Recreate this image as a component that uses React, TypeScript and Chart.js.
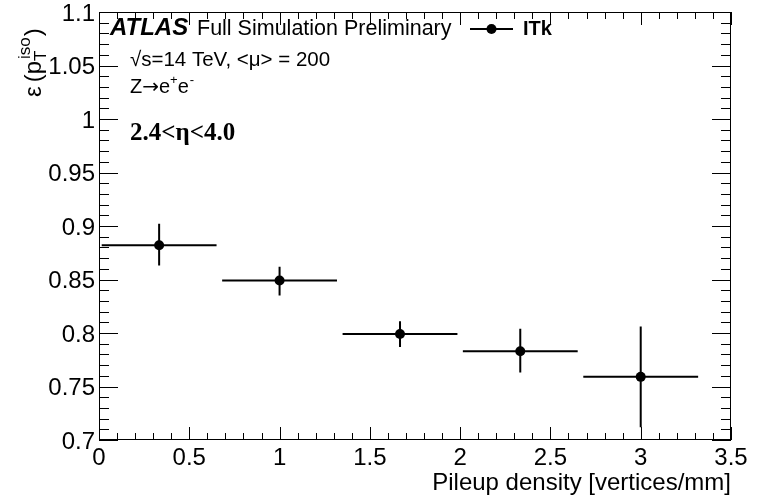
import React, { useEffect, useRef } from "react";
import { Chart, registerables } from "chart.js";

Chart.register(...registerables);

// ---- data ----
const pileupDensity = [0.333, 1.0, 1.667, 2.333, 3.0];
const binHalfWidth = [0.318, 0.318, 0.318, 0.318, 0.318];
const efficiency = [0.882, 0.849, 0.799, 0.783, 0.759];
const effErrUp = [0.02, 0.013, 0.012, 0.021, 0.047];
const effErrDown = [0.019, 0.014, 0.012, 0.02, 0.047];

const xTickValues = [0, 0.5, 1, 1.5, 2, 2.5, 3, 3.5];
const xTickLabels = ["0", "0.5", "1", "1.5", "2", "2.5", "3", "3.5"];
const yTickValues = [0.7, 0.75, 0.8, 0.85, 0.9, 0.95, 1.0, 1.05, 1.1];
const yTickLabels = ["0.7", "0.75", "0.8", "0.85", "0.9", "0.95", "1", "1.05", "1.1"];

const xTitle = "Pileup density [vertices/mm]";
const seriesName = "ITk";

const SANS = '"Liberation Sans", Arial, Helvetica, sans-serif';
const SERIF = '"Liberation Serif", "Times New Roman", serif';

const rootStylePlugin = {
  id: "rootStyle",
  beforeDatasetsDraw(chart: any) {
    const ctx = chart.ctx;
    const xs = chart.scales.x;
    const ys = chart.scales.y;
    ctx.save();
    ctx.strokeStyle = "#000";
    ctx.lineWidth = 2;
    for (let i = 0; i < pileupDensity.length; i++) {
      const px = xs.getPixelForValue(pileupDensity[i]);
      const py = ys.getPixelForValue(efficiency[i]);
      const xl = xs.getPixelForValue(pileupDensity[i] - binHalfWidth[i]);
      const xr = xs.getPixelForValue(pileupDensity[i] + binHalfWidth[i]);
      const yt = ys.getPixelForValue(efficiency[i] + effErrUp[i]);
      const yb = ys.getPixelForValue(efficiency[i] - effErrDown[i]);
      ctx.beginPath();
      ctx.moveTo(xl, py);
      ctx.lineTo(xr, py);
      ctx.moveTo(px, yt);
      ctx.lineTo(px, yb);
      ctx.stroke();
    }
    ctx.restore();
  },
  afterDraw(chart: any) {
    const ctx = chart.ctx;
    const xs = chart.scales.x;
    const ys = chart.scales.y;
    const { left, right, top, bottom } = chart.chartArea;
    ctx.save();
    // frame
    ctx.strokeStyle = "#000";
    ctx.lineWidth = 1;
    ctx.strokeRect(left + 0.5, top + 0.5, right - left - 1, bottom - top - 1);

    // y ticks (minor 0.01, major 0.05)
    ctx.beginPath();
    for (let i = 0; i <= 40; i++) {
      const v = 0.7 + i * 0.01;
      const py = Math.round(ys.getPixelForValue(v)) + 0.5;
      const len = i % 5 === 0 ? 19 : 10;
      ctx.moveTo(left, py);
      ctx.lineTo(left + len, py);
      ctx.moveTo(right, py);
      ctx.lineTo(right - len, py);
    }
    // x ticks (minor 0.1, major 0.5)
    for (let i = 0; i <= 35; i++) {
      const v = i * 0.1;
      const px = Math.round(xs.getPixelForValue(v)) + 0.5;
      const len = i % 5 === 0 ? 13 : 7;
      ctx.moveTo(px, bottom);
      ctx.lineTo(px, bottom - len);
      ctx.moveTo(px, top);
      ctx.lineTo(px, top + len);
    }
    ctx.stroke();

    // tick labels
    ctx.fillStyle = "#000";
    ctx.font = `24px ${SANS}`;
    ctx.textAlign = "right";
    ctx.textBaseline = "alphabetic";
    yTickValues.forEach((v, i) => {
      const py = ys.getPixelForValue(v);
      ctx.fillText(yTickLabels[i], left - 4, py + 8.5);
    });
    ctx.textAlign = "center";
    xTickValues.forEach((v, i) => {
      const px = xs.getPixelForValue(v);
      ctx.fillText(xTickLabels[i], px, 465);
    });

    // x title
    ctx.textAlign = "right";
    ctx.fillText(xTitle, right, 490);

    // y title: ε (p_T^iso), rotated
    ctx.save();
    ctx.translate(41, 97);
    ctx.rotate(-Math.PI / 2);
    ctx.textAlign = "left";
    ctx.font = `24px ${SANS}`;
    let x = 0;
    ctx.fillText("\u03b5", x, 0);
    x += ctx.measureText("\u03b5").width + 4;
    ctx.fillText("(", x, 0);
    x += ctx.measureText("(").width;
    ctx.fillText("p", x, 0);
    x += ctx.measureText("p").width;
    ctx.font = `17px ${SANS}`;
    ctx.fillText("T", x, 5);
    const tw = ctx.measureText("T").width;
    ctx.fillText("iso", x + 2, -11);
    const iw = ctx.measureText("iso").width;
    x += Math.max(tw, iw + 2) + 1;
    ctx.font = `24px ${SANS}`;
    ctx.fillText(")", x, 0);
    ctx.restore();

    // ATLAS label
    ctx.textAlign = "left";
    ctx.font = `bold italic 24px ${SANS}`;
    ctx.fillText("ATLAS", 110, 35);
    ctx.font = `21.5px ${SANS}`;
    ctx.fillText("Full Simulation Preliminary", 197, 35);

    ctx.font = `20.5px ${SANS}`;
    ctx.fillText("\u221as=14 TeV, <\u03bc> = 200", 130, 66);

    // Z -> e+ e-
    let zx = 130;
    ctx.font = `20px ${SANS}`;
    ctx.fillText("Z", zx, 93);
    zx += ctx.measureText("Z").width;
    ctx.font = `20px "DejaVu Sans", ${SANS}`;
    ctx.fillText("\u2192", zx, 93);
    zx += ctx.measureText("\u2192").width;
    ctx.font = `20px ${SANS}`;
    ctx.fillText("e", zx, 93);
    zx += ctx.measureText("e").width;
    ctx.font = `13px ${SANS}`;
    ctx.fillText("+", zx, 84);
    zx += ctx.measureText("+").width;
    ctx.font = `20px ${SANS}`;
    ctx.fillText("e", zx, 93);
    zx += ctx.measureText("e").width;
    ctx.font = `13px ${SANS}`;
    ctx.fillText("-", zx + 1, 84);

    ctx.font = `bold 25px ${SERIF}`;
    ctx.fillText("2.4<\u03b7<4.0", 130, 140);

    // legend
    ctx.strokeStyle = "#000";
    ctx.lineWidth = 2;
    ctx.beginPath();
    ctx.moveTo(470, 29);
    ctx.lineTo(513, 29);
    ctx.stroke();
    ctx.beginPath();
    ctx.arc(491.5, 29, 5, 0, Math.PI * 2);
    ctx.fill();
    ctx.font = `bold 20px ${SANS}`;
    ctx.fillText(seriesName, 523, 35);

    ctx.restore();
  },
};

export default function App() {
  const ref = useRef<HTMLCanvasElement | null>(null);
  useEffect(() => {
    if (!ref.current) return;
    const chart = new Chart(ref.current, {
      type: "scatter",
      data: {
        datasets: [
          {
            label: seriesName,
            data: pileupDensity.map((x, i) => ({ x, y: efficiency[i] })),
            pointRadius: 5,
            pointBackgroundColor: "#000",
            pointBorderColor: "#000",
            pointBorderWidth: 0,
            showLine: false,
          },
        ],
      },
      options: {
        responsive: false,
        animation: false,
        layout: { padding: { left: 99, right: 32, top: 12, bottom: 56 } },
        scales: {
          x: { type: "linear", min: 0, max: 3.5, display: false },
          y: { type: "linear", min: 0.7, max: 1.1, display: false },
        },
        plugins: { legend: { display: false }, tooltip: { enabled: false } },
      },
      plugins: [rootStylePlugin],
    });
    return () => chart.destroy();
  }, []);
  return (
    <div style={{ position: "absolute", left: 0, top: 0, width: 763, height: 496, background: "#fff" }}>
      <canvas ref={ref} width={763} height={496} style={{ width: 763, height: 496 }} />
    </div>
  );
}
